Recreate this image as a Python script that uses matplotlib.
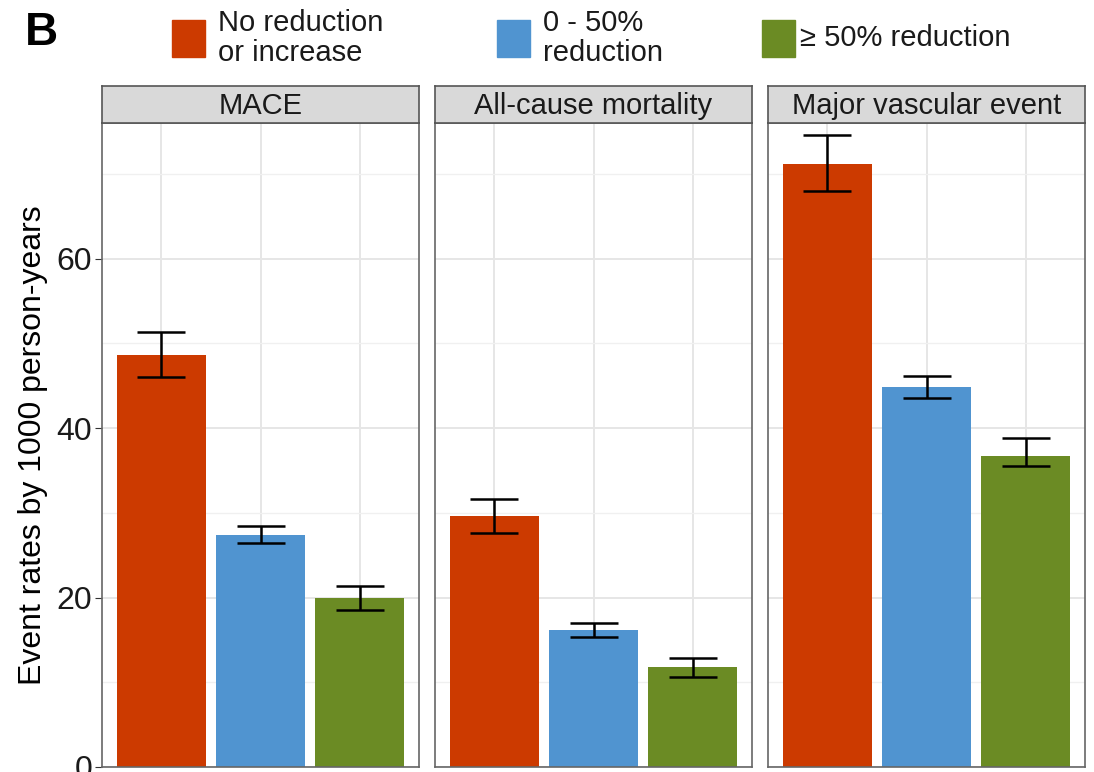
import matplotlib.pyplot as plt
from matplotlib.patches import Rectangle
import numpy as np

plt.rcParams['font.family'] = ['Liberation Sans', 'DejaVu Sans']

panels = ["MACE", "All-cause mortality", "Major vascular event"]
groups = ["No reduction\nor increase", "0 - 50%\nreduction", "≥ 50% reduction"]
colors = ["#CC3A00", "#5094D0", "#6B8B24"]

rate = [[48.6, 27.4, 19.9], [29.6, 16.2, 11.8], [71.2, 44.8, 36.7]]
lo = [[46.0, 26.4, 18.5], [27.6, 15.3, 10.6], [68.0, 43.5, 35.5]]
hi = [[51.3, 28.5, 21.4], [31.6, 17.0, 12.9], [74.6, 46.2, 38.8]]

fig = plt.figure(figsize=(10.94, 7.72), dpi=100)
W, H = 1094, 772
lefts = [102, 435, 768]
pw = 317
top, bottom = 123, 767
strip_h = 37

x = np.arange(1, 4)
for i, name in enumerate(panels):
    ax = fig.add_axes([lefts[i] / W, 1 - bottom / H, pw / W, (bottom - top) / H])
    ax.set_axisbelow(True)
    ax.bar(x, rate[i], width=0.9, color=colors, zorder=2)
    err = [np.array(rate[i]) - np.array(lo[i]), np.array(hi[i]) - np.array(rate[i])]
    ax.errorbar(x, rate[i], yerr=err, fmt="none", ecolor="black", elinewidth=1.8,
                capsize=17, capthick=1.8, zorder=3)
    ax.set_xlim(0.4, 3.6)
    ax.set_ylim(0, 76)
    ax.set_yticks([0, 20, 40, 60])
    ax.set_yticks([10, 30, 50, 70], minor=True)
    ax.set_xticks(x)
    ax.grid(True, which="major", color="#E6E6E6", lw=1.4)
    ax.grid(True, which="minor", axis="y", color="#F0F0F0", lw=1.0)
    ax.tick_params(axis="x", length=0, labelbottom=False)
    ax.tick_params(axis="y", which="minor", length=0)
    for s in ax.spines.values():
        s.set_color("#666666")
        s.set_linewidth(1.2)
    if i == 0:
        ax.tick_params(axis="y", labelsize=23, length=5, pad=2, color="#333333", labelcolor="#1A1A1A")
        ax.set_ylabel("Event rates by 1000 person-years", fontsize=23, labelpad=6)
    else:
        ax.tick_params(axis="y", length=0, labelleft=False)
    # strip
    sax = fig.add_axes([lefts[i] / W, 1 - top / H, pw / W, strip_h / H])
    sax.set_xticks([])
    sax.set_yticks([])
    sax.set_facecolor("#D9D9D9")
    for s in sax.spines.values():
        s.set_color("#555555")
        s.set_linewidth(1.2)
    sax.text(0.5, 0.45, name, ha="center", va="center", fontsize=21, color="#1A1A1A",
             transform=sax.transAxes)

# legend
leg_x = [172, 497, 762]
for gx, c, g in zip(leg_x, colors, groups):
    fig.patches.append(Rectangle((gx / W, 1 - 57 / H), 33 / W, 37 / H, color=c,
                                 transform=fig.transFigure))
    fig.text((gx + 46 if gx != 762 else gx + 38) / W, 1 - 38 / H, g, fontsize=21,
             va="center", ha="left", linespacing=1.12, color="#1A1A1A")

fig.text(25 / W, 1 - 33 / H, "B", fontsize=33, fontweight="bold", va="center")

fig.savefig("out.png", dpi=100)
